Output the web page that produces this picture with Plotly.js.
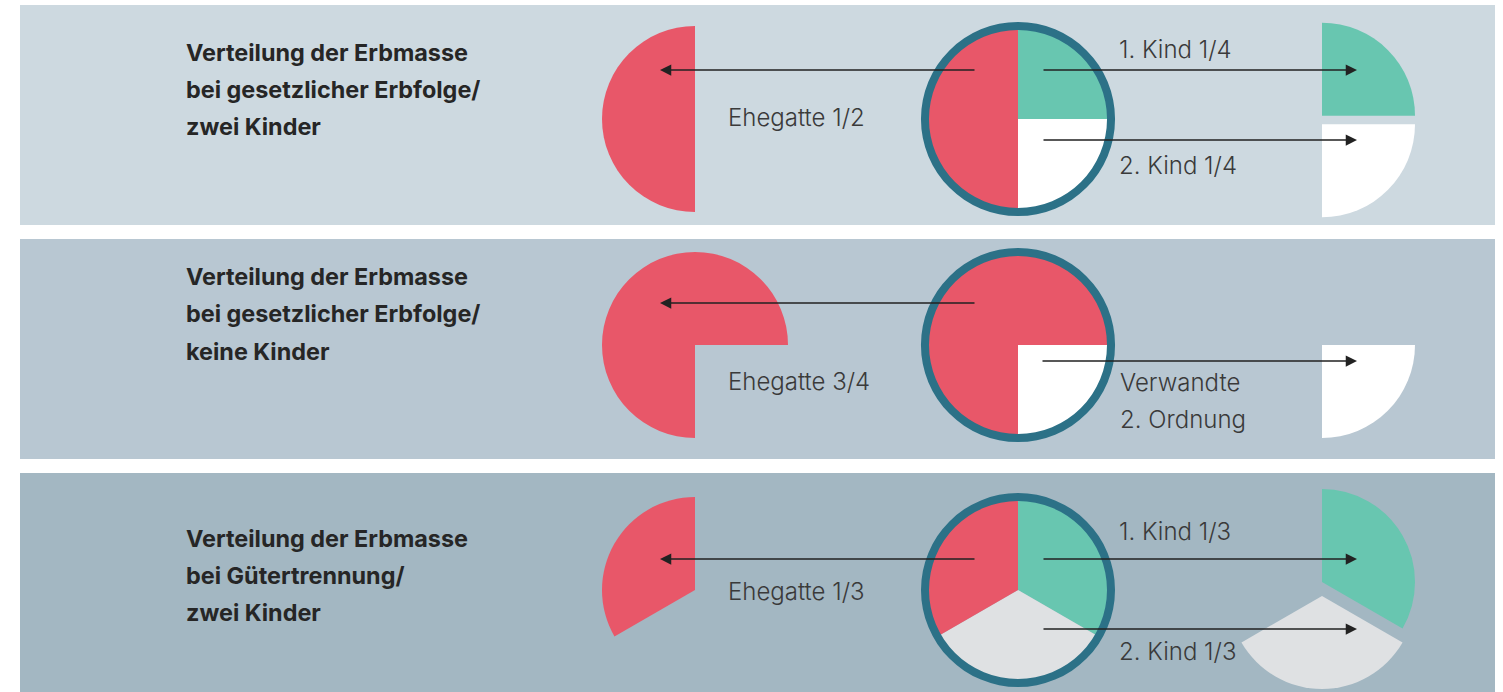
<!DOCTYPE html>
<html><head><meta charset="utf-8">
<script src="https://cdn.plot.ly/plotly-3.0.1.min.js"></script>
<style>html,body{margin:0;padding:0;background:#fff;}#chart{width:1503px;height:692px;}</style>
</head><body><div id="chart"></div>
<script>
// ---------- data ----------
const panelTitles = [
  ['Verteilung der Erbmasse', 'bei gesetzlicher Erbfolge/', 'zwei Kinder'],
  ['Verteilung der Erbmasse', 'bei gesetzlicher Erbfolge/', 'keine Kinder'],
  ['Verteilung der Erbmasse', 'bei Gütertrennung/', 'zwei Kinder']
];
const heirs1 = ['1. Kind', '2. Kind', 'Ehegatte'];
const shares1 = [0.25, 0.25, 0.5];
const shareText1 = ['1. Kind 1/4', '2. Kind 1/4', 'Ehegatte 1/2'];

const heirs2 = ['Verwandte 2. Ordnung', 'Ehegatte'];
const shares2 = [0.25, 0.75];
const shareText2 = ['Verwandte<br>2. Ordnung', 'Ehegatte 3/4'];

const heirs3 = ['1. Kind', '2. Kind', 'Ehegatte'];
const shares3 = [0.3333, 0.3333, 0.3333];
const shareText3 = ['1. Kind 1/3', '2. Kind 1/3', 'Ehegatte 1/3'];

// ---------- layout / styling ----------
const W = 1503, H = 692;
const PINK = '#e85769', TEAL = '#68c6b0', WHITE = '#ffffff', GREY = '#dfe1e3', RING = '#2c7187';
const NONE = 'rgba(0,0,0,0)';
const px = x => x / W, py = y => 1 - y / H;

const panels = [
  { heirs: heirs1, shares: shares1, texts: shareText1, colors: [TEAL, WHITE, PINK], rotation: 0,
    top: 5, bottom: 225, bg: '#cdd9e0', cy: 119, titleY: [52, 89, 127],
    pieces: [[0, 1322, 115.7], [1, 1322, 124.3], [2, 695, 119]],
    arrows: [[1042, 70, 1357, 70], [1042, 140, 1357, 140], [976, 70, 660, 70]],
    labels: [[0, 1120, 50], [1, 1120, 166], [2, 729, 117]] },
  { heirs: heirs2, shares: shares2, texts: shareText2, colors: [WHITE, PINK], rotation: 90,
    top: 239, bottom: 459, bg: '#b8c7d2', cy: 345, titleY: [276, 313, 351],
    pieces: [[0, 1322, 345], [1, 695, 345]],
    arrows: [[1041, 361, 1357, 361], [976, 303, 660, 303]],
    labels: [[0, 1121, 382], [1, 729, 381]] },
  { heirs: heirs3, shares: shares3, texts: shareText3, colors: [TEAL, GREY, PINK], rotation: 0,
    top: 473, bottom: 692, bg: '#a3b7c2', cy: 590, titleY: [538, 575, 612],
    pieces: [[0, 1322, 582], [1, 1322, 596], [2, 695, 590]],
    arrows: [[1042, 559, 1357, 559], [1042, 629, 1357, 629], [976, 559, 660, 559]],
    labels: [[0, 1120, 531], [1, 1120, 651], [2, 729, 591]] }
];
const MAIN_CX = 1018, MAIN_R = 90, RING_R = 97, PIECE_R = 93;

function dom(cx, cy, r) {
  return { x: [px(cx - r), px(cx + r)], y: [py(cy + r), py(cy - r)] };
}

const traces = [], shapes = [], annotations = [];
const labelFont = { family: 'Inter, Roboto, sans-serif', size: 24, color: '#3a3a3a', weight: 300 };
const titleFont = { family: 'Inter, Roboto, sans-serif', size: 23.4, color: '#262626', weight: 700 };

panels.forEach((p, pi) => {
  shapes.push({ type: 'rect', xref: 'paper', yref: 'paper', x0: px(20), x1: px(1495),
    y0: py(p.bottom), y1: py(p.top), fillcolor: p.bg, line: { width: 0 }, layer: 'below' });
  // main pie
  traces.push({ type: 'pie', labels: p.heirs, values: p.shares, sort: false, direction: 'clockwise',
    rotation: p.rotation, marker: { colors: p.colors, line: { width: 0 } }, textinfo: 'none',
    hoverinfo: 'label+percent', showlegend: false, domain: dom(MAIN_CX, p.cy, MAIN_R) });
  // ring
  traces.push({ type: 'pie', labels: ['Erbmasse'], values: [1], hole: 89 / RING_R,
    marker: { colors: [RING], line: { width: 0 } }, textinfo: 'none', hoverinfo: 'skip',
    showlegend: false, domain: dom(MAIN_CX, p.cy, RING_R) });
  // separated pieces
  p.pieces.forEach(([idx, cx, cy]) => {
    traces.push({ type: 'pie', labels: p.heirs, values: p.shares, sort: false, direction: 'clockwise',
      rotation: p.rotation, marker: { colors: p.colors.map((c, i) => i === idx ? c : NONE), line: { width: 0 } },
      textinfo: 'none', hoverinfo: 'skip', showlegend: false, domain: dom(cx, cy, PIECE_R) });
  });
  // arrows
  p.arrows.forEach(([x0, y0, x1, y1]) => {
    annotations.push({ xref: 'paper', yref: 'paper', x: px(x1), y: py(y1), axref: 'pixel', ayref: 'pixel',
      ax: x0 - x1, ay: y0 - y1, text: '', showarrow: true, arrowhead: 2, arrowsize: 1.5, arrowwidth: 1.5,
      arrowcolor: '#222', standoff: 0, startstandoff: 0 });
  });
  // labels
  p.labels.forEach(([idx, x, y]) => {
    p.texts[idx].split('<br>').forEach((t, k) => {
      annotations.push({ xref: 'paper', yref: 'paper', x: px(x - 3), y: py(y + k * 37), xanchor: 'left', yanchor: 'middle',
        text: t, showarrow: false, font: labelFont });
    });
  });
  // titles
  panelTitles[pi].forEach((t, k) => {
    annotations.push({ xref: 'paper', yref: 'paper', x: px(184), y: py(p.titleY[k]), xanchor: 'left', yanchor: 'middle',
      text: t, showarrow: false, font: titleFont });
  });
});

Plotly.newPlot('chart', traces, {
  width: W, height: H, margin: { l: 0, r: 0, t: 0, b: 0 },
  paper_bgcolor: '#ffffff', plot_bgcolor: '#ffffff',
  shapes, annotations, showlegend: false
}, { displayModeBar: false, staticPlot: true });
</script></body></html>
